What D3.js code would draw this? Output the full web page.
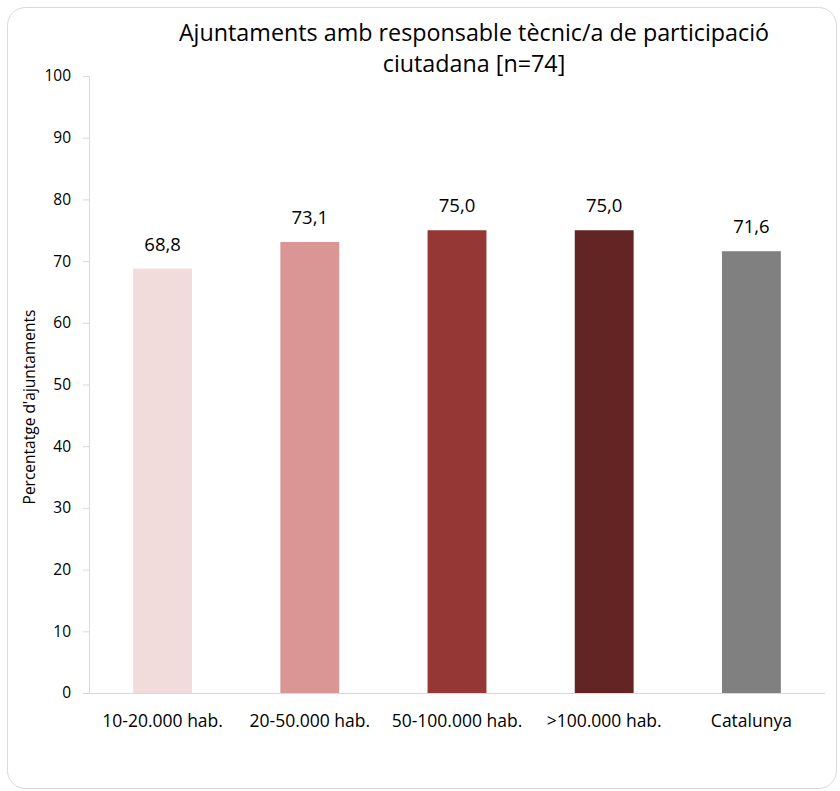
<!DOCTYPE html>
<html>
<head>
<meta charset="utf-8">
<script src="https://cdn.jsdelivr.net/npm/d3@7"></script>
<style>
  html, body { margin: 0; padding: 0; background: #fff; }
  svg { display: block; }
  text { font-family: "Open Sans", "Liberation Sans", sans-serif; fill: #000; }
</style>
</head>
<body>
<svg id="chart" width="840" height="791"></svg>
<script>
const categories = ["10-20.000 hab.", "20-50.000 hab.", "50-100.000 hab.", ">100.000 hab.", "Catalunya"];
const values = [68.8, 73.1, 75.0, 75.0, 71.6];
const colors = ["#f2dcdb", "#da9694", "#953735", "#632523", "#808080"];
const yTicks = [0, 10, 20, 30, 40, 50, 60, 70, 80, 90, 100];
const titleLines = ["Ajuntaments amb responsable tècnic/a de participació", "ciutadana [n=74]"];
const yLabel = "Percentatge d'ajuntaments";

const W = 840, H = 791;
const margin = { left: 89, right: 15, top: 76, bottom: 98 };
const svg = d3.select("#chart");

svg.append("rect")
  .attr("x", 7.5).attr("y", 7.5)
  .attr("width", 829).attr("height", 781)
  .attr("rx", 18).attr("ry", 18)
  .attr("fill", "#fff").attr("stroke", "#d9d9d9").attr("stroke-width", 1);

const x = d3.scaleBand().domain(categories)
  .range([margin.left, W - margin.right]).paddingInner(0.6).paddingOuter(0.3);
const y = d3.scaleLinear().domain([0, 100]).range([H - margin.bottom, margin.top]);

// y axis
const yAxis = svg.append("g").attr("transform", `translate(${margin.left},0)`)
  .call(d3.axisLeft(y).tickValues(yTicks).tickSize(6).tickPadding(12).tickFormat(d3.format("d")));
yAxis.select(".domain").attr("stroke", "#d9d9d9");
yAxis.selectAll(".tick line").attr("stroke", "#d9d9d9");
yAxis.selectAll(".tick text").attr("font-size", 15.5).attr("fill", "#000")
  .style("font-family", '"Open Sans", sans-serif');

// x axis
const xAxis = svg.append("g").attr("transform", `translate(0,${y(0)})`)
  .call(d3.axisBottom(x).tickSize(0).tickPadding(22).tickSizeOuter(0));
xAxis.select(".domain").attr("stroke", "#d9d9d9").attr("d", `M${margin.left - 6},0.5H${W - margin.right}`);
xAxis.selectAll(".tick text").attr("font-size", 17.5).attr("fill", "#000")
  .style("font-family", '"Open Sans", sans-serif');

// bars
svg.append("g").selectAll("rect").data(values).join("rect")
  .attr("x", (d, i) => x(categories[i]))
  .attr("width", x.bandwidth())
  .attr("y", d => y(d))
  .attr("height", d => y(0) - y(d))
  .attr("fill", (d, i) => colors[i]);

// value labels
const fmt = d => d.toFixed(1).replace(".", ",");
svg.append("g").selectAll("text").data(values).join("text")
  .attr("x", (d, i) => x(categories[i]) + x.bandwidth() / 2)
  .attr("y", d => y(d) - 18)
  .attr("text-anchor", "middle")
  .attr("font-size", 18.5)
  .text(fmt);

// title
svg.append("g").selectAll("text").data(titleLines).join("text")
  .attr("x", 474)
  .attr("y", (d, i) => 41 + i * 31)
  .attr("text-anchor", "middle")
  .attr("font-size", 23.3)
  .text(d => d);

// y label
svg.append("text")
  .attr("transform", `translate(35,407) rotate(-90)`)
  .attr("text-anchor", "middle")
  .attr("font-size", 15.5)
  .text(yLabel);
</script>
</body>
</html>
